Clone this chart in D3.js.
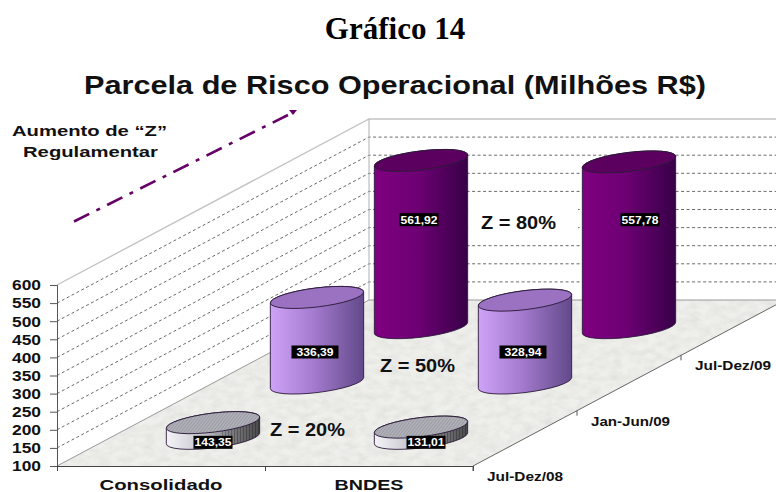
<!DOCTYPE html>
<html><head><meta charset="utf-8">
<script src="https://cdn.jsdelivr.net/npm/d3@7"></script>
<style>html,body{margin:0;padding:0;background:#fff}svg{display:block}text{font-family:"Liberation Sans",Arial,sans-serif;font-weight:bold;fill:#111}</style>
</head><body><svg id="c" width="776" height="492"></svg>
<script>
const categories = ["Consolidado", "BNDES"];
const periods = ["Jul-Dez/08", "Jan-Jun/09", "Jul-Dez/09"];
const consolidado = [143.35, 336.39, 561.92];
const bndes = [131.01, 328.94, 557.78];
const valueTicks = [100,150,200,250,300,350,400,450,500,550,600];
const zLabels = ["Z = 20%", "Z = 50%", "Z = 80%"];
const valueText = v => v.toFixed(2).replace(".", ",");

const svg = d3.select("#c");
const X = d3.scaleLinear().domain([0,2]).range([57,473]);        // category axis
const Dx = d3.scaleLinear().domain([0,3]).range([0,312]);        // depth, screen x
const Dy = d3.scaleLinear().domain([0,3]).range([466,300]);      // depth, screen y
const V = d3.scaleLinear().domain([100,600]).range([0,181]);     // value, screen height
const px = (c,d) => X(c)+Dx(d), py = (d,v) => Dy(d)-V(v);
const wide = (sel,w) => sel.attr("textLength",w).attr("lengthAdjust","spacingAndGlyphs");

const defs = svg.append("defs");
function grad(id, stops){
  const g = defs.append("linearGradient").attr("id",id);
  stops.forEach(s=>g.append("stop").attr("offset",s[0]).attr("stop-color",s[1]));
}
grad("gPurple",[[0,"#cda2f7"],[.45,"#a67cd0"],[1,"#62498a"]]);
grad("gDark",[[0,"#800080"],[.45,"#6e0074"],[1,"#380048"]]);
grad("gGray",[[0,"#f4f4f8"],[.4,"#c4c4cc"],[.7,"#7c7c80"],[1,"#4a4a4c"]]);
const hat = defs.append("pattern").attr("id","hatch").attr("width",2.5).attr("height",2.5)
  .attr("patternUnits","userSpaceOnUse").attr("patternTransform","rotate(45)");
hat.append("rect").attr("width",2.5).attr("height",2.5).attr("fill","#b2b2ba");
hat.append("rect").attr("width",1).attr("height",2.5).attr("fill","#9a9aa2");
const st = defs.append("pattern").attr("id","stripe").attr("width",3).attr("height",3).attr("patternUnits","userSpaceOnUse");
st.append("rect").attr("width",1).attr("height",3).attr("fill","#000").attr("opacity",.25);
const f = defs.append("filter").attr("id","marble").attr("x",0).attr("y",0).attr("width",1).attr("height",1);
f.append("feTurbulence").attr("type","fractalNoise").attr("baseFrequency","0.09 0.16").attr("numOctaves",4).attr("seed",4);
f.append("feColorMatrix").attr("type","matrix").attr("values","0 0 0 0 0.6  0 0 0 0 0.6  0 0 0 0 0.57  0.7 0 0 0 -0.22");
f.append("feComposite").attr("in2","SourceGraphic").attr("operator","in").attr("result","n");
f.append("feMerge").call(m=>{m.append("feMergeNode").attr("in","SourceGraphic");m.append("feMergeNode").attr("in","n");});
defs.append("clipPath").attr("id","page").append("rect").attr("width",776).attr("height",492);

// titles
svg.append("text").attr("x",395).attr("y",39).attr("text-anchor","middle")
  .style("font-family","'Liberation Serif',serif").style("font-size","31px").style("fill","#000").text("Gráfico 14");
svg.append("text").attr("x",395).attr("y",94).attr("text-anchor","middle")
  .style("font-size","25px").call(wide,622).text("Parcela de Risco Operacional (Milhões R$)");

const plot = svg.append("g").attr("clip-path","url(#page)");
const line = d3.line();

// floor
plot.append("path").attr("d", line([[px(0,0),py(0,100)],[px(2,0),py(0,100)],[px(2,3),py(3,100)],[px(0,3),py(3,100)]])+"Z")
  .attr("fill","#efefec").attr("filter","url(#marble)");

// gridlines on the two walls
valueTicks.slice(1,-1).forEach(v=>{
  plot.append("path").attr("d",line([[px(0,0),py(0,v)],[px(0,3),py(3,v)],[px(2,3),py(3,v)]]))
    .attr("fill","none").attr("stroke","#444").attr("stroke-width",.8).attr("stroke-dasharray","3 2.5");
});
// wall borders
plot.append("path").attr("d",line([[px(0,0),py(0,600)],[px(0,3),py(3,600)],[px(2,3),py(3,600)]]))
  .attr("fill","none").attr("stroke","#c4c4c4").attr("stroke-width",1.4);
plot.append("path").attr("d",line([[px(0,3),py(3,600)],[px(0,3),py(3,100)]]))
  .attr("fill","none").attr("stroke","#b0b0b0").attr("stroke-width",1);
plot.append("path").attr("d",line([[px(0,0),py(0,100)],[px(0,3),py(3,100)],[px(2,3),py(3,100)]]))
  .attr("fill","none").attr("stroke","#999").attr("stroke-width",1);
plot.append("path").attr("d",line([[px(2,0),py(0,100)],[px(2,3),py(3,100)]]))
  .attr("fill","none").attr("stroke","#666").attr("stroke-width",1);

// axes
const leftAxis = d3.axisLeft(d3.scaleLinear().domain([100,600]).range([466,285]))
  .tickValues(valueTicks).tickSize(7).tickPadding(9).tickFormat(d3.format("d"));
const gl = svg.append("g").attr("transform",`translate(${px(0,0)},0)`).call(leftAxis);
gl.selectAll("text").style("font-size","15px").style("fill","#111").call(wide,29);
gl.selectAll("line,path").attr("stroke","#555");
const bottomAxis = d3.axisBottom(X).tickValues([0,1,2]).tickSize(5).tickFormat("");
const gb = svg.append("g").attr("transform",`translate(0,${py(0,100)})`).call(bottomAxis);
gb.selectAll("line,path").attr("stroke","#444");

const catWidths=[123,69];
categories.forEach((c,i)=>{
  svg.append("text").attr("x",X(i+.5)).attr("y",490).attr("text-anchor","middle")
    .style("font-size","15.5px").call(wide,catWidths[i]).text(c);
});
const periodWidths=[76,79,76];
periods.forEach((p,i)=>{
  const tx = px(2,i), ty = py(i,100);
  svg.append("line").attr("x1",tx).attr("y1",ty).attr("x2",tx).attr("y2",ty+5).attr("stroke","#555");
  svg.append("text").attr("x",tx+14).attr("y",ty+15).style("font-size","12px").call(wide,periodWidths[i]).text(p);
});

// white patch behind the Z = 80% note
svg.append("rect").attr("x",468).attr("y",203).attr("width",110).attr("height",32).attr("fill","#fff");

// cylinders
const rx=47, ry=9.5, rot=-7, a=rot*Math.PI/180;
const hw=Math.sqrt(rx*rx*Math.cos(a)**2+ry*ry*Math.sin(a)**2);
const off=(rx*rx-ry*ry)*Math.sin(-a)*Math.cos(a)/hw;
function cylinder(c,d,v,fillBody,fillTop,overlay){
  const cx=px(c+.5,d+.5), yb=py(d+.5,100), yt=py(d+.5,v), g=svg.append("g");
  const body=`M${cx-hw},${yt+off}L${cx-hw},${yb+off}A${rx},${ry} ${rot} 0 0 ${cx+hw},${yb-off}L${cx+hw},${yt-off}A${rx},${ry} ${rot} 0 0 ${cx-hw},${yt+off}Z`;
  g.append("path").attr("d",body).attr("fill",fillBody);
  if(overlay){
    const id=`half${c}${d}`;
    g.append("clipPath").attr("id",id).append("rect").attr("x",cx+8).attr("y",yt-20).attr("width",hw).attr("height",yb-yt+40);
    g.append("path").attr("d",body).attr("fill",overlay).attr("clip-path",`url(#${id})`);
  }
  g.append("path").attr("d",body).attr("fill","none").attr("stroke","#2c1a3a").attr("stroke-width",.9);
  g.append("ellipse").attr("rx",rx).attr("ry",ry).attr("transform",`translate(${cx},${yt}) rotate(${rot})`)
    .attr("fill",fillTop).attr("stroke","#2c1a3a").attr("stroke-width",.9);
}
const styles=[["url(#gGray)","url(#hatch)","url(#stripe)"],["url(#gPurple)","#9b72c2",null],["url(#gDark)","#5c0060",null]];
const labelLift=[-4,31,108], labelShiftA=[0,-2,-2], labelShiftB=[5,-2,11], labelBox=[39,47,39];
[2,1,0].forEach(d=>{
  [consolidado,bndes].forEach((s,c)=>cylinder(c,d,s[d],...styles[d]));
});
[consolidado,bndes].forEach((s,c)=>s.forEach((v,d)=>{
  const cx=px(c+.5,d+.5)+(c?labelShiftB:labelShiftA)[d], cy=py(d+.5,100)-labelLift[d];
  svg.append("rect").attr("x",cx-labelBox[d]/2).attr("y",cy-6.5).attr("width",labelBox[d]).attr("height",13).attr("fill","#000");
  svg.append("text").attr("x",cx).attr("y",cy+4).attr("text-anchor","middle")
    .style("font-size","10.5px").style("fill","#fff").call(wide,37).text(valueText(v));
}));

// Z notes
[[270,436],[380,372],[481,229]].forEach((p,i)=>{
  svg.append("text").attr("x",p[0]).attr("y",p[1]).style("font-size","18px").call(wide,75).text(zLabels[i]);
});

// Regulatory arrow note
svg.append("text").attr("x",89.5).attr("y",136).attr("text-anchor","middle").style("font-size","15.5px").call(wide,155).text("Aumento de “Z”");
svg.append("text").attr("x",90.5).attr("y",157).attr("text-anchor","middle").style("font-size","15.5px").call(wide,135).text("Regulamentar");
svg.append("line").attr("x1",74).attr("y1",221.5).attr("x2",288).attr("y2",115)
  .attr("stroke","#660066").attr("stroke-width",2.6).attr("stroke-dasharray","17 8 4 8");
svg.append("path").attr("d","M289,110L297,110L293,115Z").attr("fill","#660066");
</script></body></html>
